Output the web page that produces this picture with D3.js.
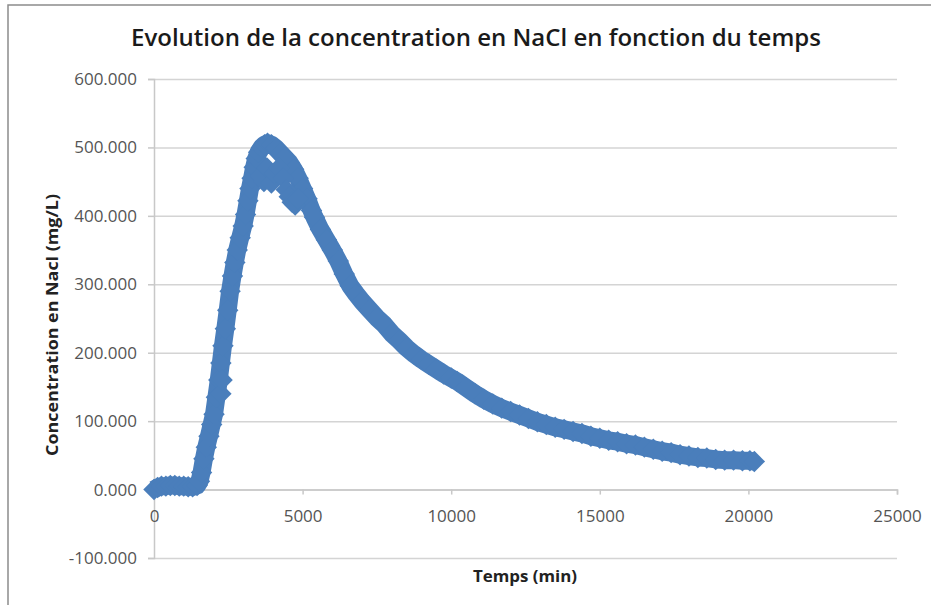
<!DOCTYPE html>
<html>
<head>
<meta charset="utf-8">
<script src="https://cdn.jsdelivr.net/npm/d3@7"></script>
<style>
  body { margin: 0; background: #fff; }
  text { font-family: "Open Sans", "DejaVu Sans", sans-serif; }
</style>
</head>
<body>
<div id="chart-area"></div>
<script>
// Evolution de la concentration en NaCl - nuage de points facon Excel
const WIDTH = 931
const HEIGHT = 605
const PLOT = {LEFT: 154, RIGHT: 897, TOP: 79, BOTTOM: 558}

// releves principaux (temps en min, concentration en mg/L)
const temps = [
  0, 120, 250, 400, 550, 700, 850, 1000, 1150, 1300, 1450,
  1530, 1600, 1680, 1760, 1850, 1940, 2020, 2100, 2180, 2250, 2320, 2400,
  2480, 2560, 2640, 2720, 2800, 2900, 3000, 3080, 3160, 3230, 3300, 3370,
  3440, 3520, 3620, 3720, 3820,
  3950, 4100, 4250, 4400, 4550, 4700, 4850, 5000, 5150, 5300, 5400,
  5600, 5800, 6000, 6200, 6400, 6600, 6800, 7000, 7250, 7500, 7750,
  8000, 8250, 8500, 8750, 9000, 9250, 9500, 9750, 10000, 10200,
  10500, 10800, 11100, 11400, 11700, 12000, 12300, 12600, 12900, 13200,
  13500, 13800, 14100, 14400, 14700, 15000, 15300, 15600, 15900, 16200,
  16500, 16800, 17100, 17400, 17700, 18000, 18300, 18600, 18900, 19200,
  19500, 19800, 20050, 20200
]
const concentration = [
  0, 3, 5, 5, 6, 6, 5, 5, 4, 4, 6,
  12, 25, 45, 62, 78, 95, 110, 135, 160, 185, 210, 235,
  262, 290, 312, 332, 350, 368, 385, 402, 422, 440, 455, 471,
  484, 493, 500, 504, 506,
  504, 499, 492, 485, 478, 468, 455, 440, 425, 408, 398,
  380, 365, 350, 334, 315, 298, 286, 275, 263, 251, 241,
  228, 218, 207, 198, 190, 183, 176, 169, 163, 158,
  149, 140, 132, 125, 119, 114, 109, 104, 99, 95,
  91, 88, 85, 82, 78, 75, 72, 70, 67, 65,
  62, 59, 56, 54, 51, 49, 47, 46, 44, 43,
  43, 42, 42, 41
]
// releves disperses (sous le pic et sur la montee)
const tempsDisperses = [2250, 2290, 3580, 3700, 3800, 3950, 4050, 4200, 4350, 4450, 4550, 4650, 4750, 4850]
const concentrationDisperses = [140, 160, 458, 450, 470, 448, 462, 470, 455, 438, 428, 420, 416, 425]

const xTicks = [0, 5000, 10000, 15000, 20000, 25000]
const yTicks = [-100, 0, 100, 200, 300, 400, 500, 600]

const TITLE = "Evolution de la concentration en NaCl en fonction du temps"
const X_TITLE = "Temps (min)"
const Y_TITLE = "Concentration en Nacl (mg/L)"

const BLUE = "#4a7ebb"

const svg = d3.select("#chart-area").append("svg")
    .attr("width", WIDTH)
    .attr("height", HEIGHT)

// cadre du graphique
svg.append("rect")
    .attr("x", 8).attr("y", 5)
    .attr("width", 940).attr("height", 620)
    .attr("fill", "none")
    .attr("stroke", "#8c8c8c")
    .attr("stroke-width", 1.5)

const x = d3.scaleLinear()
    .domain([0, 25000])
    .range([PLOT.LEFT, PLOT.RIGHT])

const y = d3.scaleLinear()
    .domain([-100, 600])
    .range([PLOT.BOTTOM, PLOT.TOP])

// grille horizontale
svg.append("g")
    .attr("class", "grid")
    .attr("transform", `translate(${PLOT.LEFT}, 0)`)
    .call(d3.axisLeft(y).tickValues(yTicks).tickSize(-(PLOT.RIGHT - PLOT.LEFT)).tickFormat(""))
    .call(g => g.select(".domain").remove())
    .selectAll("line")
    .attr("stroke", "#d4d4d4")
    .attr("stroke-width", 1.5)

// axe Y (format Excel, tiret simple pour le signe moins)
const yAxis = svg.append("g")
    .attr("class", "y axis")
    .attr("transform", `translate(${PLOT.LEFT}, 0)`)
    .call(d3.axisLeft(y).tickValues(yTicks).tickSize(6).tickPadding(11)
        .tickFormat(d => d.toFixed(3)))
yAxis.select(".domain").attr("stroke", "#c8c8c8").attr("stroke-width", 1.5)
yAxis.selectAll(".tick line").attr("stroke", "#c8c8c8").attr("stroke-width", 1.5)
yAxis.selectAll("text")
    .attr("fill", "#555")
    .attr("font-size", "17px")

// axe X (croise en 0)
const xAxis = svg.append("g")
    .attr("class", "x axis")
    .attr("transform", `translate(0, ${y(0)})`)
    .call(d3.axisBottom(x).tickValues(xTicks).tickSize(5).tickPadding(15)
        .tickFormat(d => d))
xAxis.select(".domain").attr("stroke", "#c8c8c8").attr("stroke-width", 1.5)
xAxis.selectAll(".tick line").attr("stroke", "#c8c8c8").attr("stroke-width", 1.5)
xAxis.selectAll("text")
    .attr("fill", "#555")
    .attr("font-size", "17px")

// titres
svg.append("text")
    .attr("x", 476)
    .attr("y", 46)
    .attr("text-anchor", "middle")
    .attr("font-size", "23px")
    .attr("font-weight", 600)
    .attr("fill", "#1a1a1a")
    .attr("textLength", 690)
    .attr("lengthAdjust", "spacingAndGlyphs")
    .text(TITLE)

svg.append("text")
    .attr("x", 525)
    .attr("y", 582)
    .attr("text-anchor", "middle")
    .attr("font-size", "16px")
    .attr("font-weight", 700)
    .attr("fill", "#222")
    .attr("textLength", 104)
    .attr("lengthAdjust", "spacingAndGlyphs")
    .text(X_TITLE)

svg.append("text")
    .attr("transform", "translate(58, 325) rotate(-90)")
    .attr("text-anchor", "middle")
    .attr("font-size", "16px")
    .attr("font-weight", 700)
    .attr("fill", "#222")
    .attr("textLength", 262)
    .attr("lengthAdjust", "spacingAndGlyphs")
    .text(Y_TITLE)

// serie : bande epaisse + losanges
const points = temps.map((t, i) => ({t: t, c: concentration[i]}))
const disperses = tempsDisperses.map((t, i) => ({t: t, c: concentrationDisperses[i]}))

const line = d3.line()
    .x(d => x(d.t))
    .y(d => y(d.c))

svg.append("path")
    .datum(points)
    .attr("d", line)
    .attr("fill", "none")
    .attr("stroke", BLUE)
    .attr("stroke-width", 18)
    .attr("stroke-linejoin", "round")

const diamond = {
  draw(context, size) {
    const r = Math.sqrt(size / 2)
    context.moveTo(0, -r)
    context.lineTo(r, 0)
    context.lineTo(0, r)
    context.lineTo(-r, 0)
    context.closePath()
  }
}

svg.selectAll(".marker")
    .data(points.concat(disperses))
    .enter().append("path")
    .attr("class", "marker")
    .attr("transform", d => `translate(${x(d.t)}, ${y(d.c)})`)
    .attr("d", d3.symbol().type(diamond).size(230))
    .attr("fill", BLUE)
</script>
</body>
</html>
